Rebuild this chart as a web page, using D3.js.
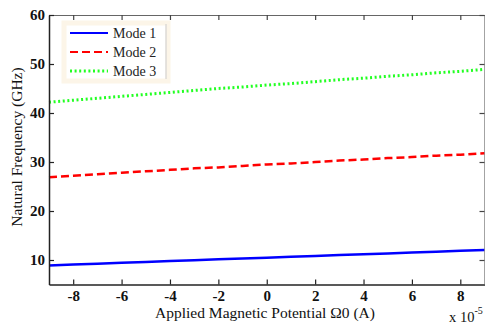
<!DOCTYPE html>
<html><head><meta charset="utf-8">
<script src="https://cdn.jsdelivr.net/npm/d3@7"></script>
<style>body{margin:0;background:#fff}svg{display:block}</style>
</head><body>
<svg id="c" width="485" height="326"></svg>
<script>
const xValues = [-9,-8,-7,-6,-5,-4,-3,-2,-1,0,1,2,3,4,5,6,7,8,9];
const mode1 = [8.9,9.07,9.24,9.42,9.6,9.78,9.95,10.13,10.3,10.47,10.65,10.82,11.0,11.17,11.35,11.52,11.7,11.87,12.05];
const mode2 = [26.9,27.2,27.5,27.8,28.1,28.4,28.7,28.9,29.2,29.5,29.7,30.0,30.3,30.5,30.8,31.0,31.3,31.5,31.8];
const mode3 = [42.2,42.6,43.0,43.4,43.8,44.2,44.6,45.0,45.3,45.7,46.0,46.4,46.8,47.1,47.5,47.8,48.2,48.5,48.9];
const seriesNames = ["Mode 1","Mode 2","Mode 3"];
const xTicks = [-8,-6,-4,-2,0,2,4,6,8];
const yTicks = [10,20,30,40,50,60];

const colors = ["#0000ff","#ff0000","#22ff22"];
const dashes = [null,"8,4","2,2.6"];
const widths = [2.5,2.5,3];

const svg = d3.select("#c");
const L=49, R=484.5, T=15, B=284.5;
const x = d3.scaleLinear().domain([-9,9]).range([L,R]);
const y = d3.scaleLinear().domain([5,60]).range([B,T]);

const serif = "'Liberation Serif','Times New Roman',serif";
const fmt = d => String(d);

// series
const allSeries=[mode1,mode2,mode3];
const line = d3.line().x((d,i)=>x(xValues[i])).y(d=>y(d));
const plot = svg.append("g");
allSeries.forEach((s,k)=>{
  plot.append("path").datum(s).attr("d",line).attr("fill","none")
    .attr("stroke",colors[k]).attr("stroke-width",widths[k])
    .attr("stroke-dasharray",dashes[k]);
});

// axes
const tl=5;
const gB = svg.append("g").attr("transform",`translate(0,${B})`)
  .call(d3.axisBottom(x).tickValues(xTicks).tickFormat(fmt).tickSize(-tl).tickPadding(6).tickSizeOuter(0));
const gT = svg.append("g").attr("transform",`translate(0,${T})`)
  .call(d3.axisTop(x).tickValues(xTicks).tickSize(-tl).tickFormat("").tickSizeOuter(0));
const gL = svg.append("g").attr("transform",`translate(${L},0)`)
  .call(d3.axisLeft(y).tickValues(yTicks).tickFormat(fmt).tickSize(-tl).tickPadding(4).tickSizeOuter(0));
const gR = svg.append("g").attr("transform",`translate(${R},0)`)
  .call(d3.axisRight(y).tickValues(yTicks).tickSize(-tl).tickFormat("").tickSizeOuter(0));
[gB,gL].forEach(g=>{
  g.selectAll(".domain").attr("stroke","#222").attr("stroke-width",1.5);
  g.selectAll(".tick line").attr("stroke","#222").attr("stroke-width",1.2);
  g.selectAll("text").attr("font-family",serif).attr("font-size",15).attr("font-weight","bold").attr("fill","#111");
});
[gT,gR].forEach(g=>{
  g.selectAll(".domain").attr("stroke","#666").attr("stroke-width",1.2);
  g.selectAll(".tick line").attr("stroke","#444").attr("stroke-width",1.2);
});

// axis titles
svg.append("text").attr("x",265).attr("y",318).attr("text-anchor","middle")
  .attr("font-family",serif).attr("font-size",15.5).attr("fill","#111")
  .text("Applied Magnetic Potential \u03A90 (A)");
svg.append("text").attr("transform","translate(22,147) rotate(-90)").attr("text-anchor","middle")
  .attr("font-family",serif).attr("font-size",15.5).attr("fill","#111")
  .text("Natural Frequency (GHz)");
const ex = svg.append("text").attr("x",449).attr("y",322).attr("font-family",serif)
  .attr("font-size",14.5).attr("fill","#111");
ex.append("tspan").text("x 10");
ex.append("tspan").attr("dy",-8).attr("font-size",10).text("-5");

// legend
const lg = svg.append("g");
lg.append("rect").attr("x",64).attr("y",23).attr("width",104).attr("height",58)
  .attr("fill","#fff").attr("stroke","#fcf5e8").attr("stroke-width",5);
lg.append("line").attr("x1",166).attr("x2",166).attr("y1",24).attr("y2",79).attr("stroke","#ccc").attr("stroke-width",1);
const ly = [33,52,71];
seriesNames.forEach((n,k)=>{
  lg.append("line").attr("x1",70).attr("x2",108).attr("y1",ly[k]).attr("y2",ly[k])
    .attr("stroke",colors[k]).attr("stroke-width",k==2?3:2).attr("stroke-dasharray",dashes[k]);
  lg.append("text").attr("x",113).attr("y",ly[k]+4.5).attr("font-family",serif)
    .attr("font-size",14).attr("fill","#222").text(n);
});
</script>
</body></html>
